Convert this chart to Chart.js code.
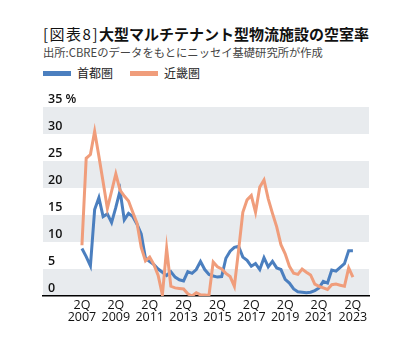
<!DOCTYPE html>
<html>
<head>
<meta charset="utf-8">
<script src="https://cdn.jsdelivr.net/npm/chart.js@4"></script>
<style>
  body { margin: 0; background: #fff; }
  #wrap { position: relative; width: 412px; height: 346px; overflow: hidden; }
  #title { position: absolute; left: 43px; top: 26px; font: 15px/15px "Noto Sans CJK JP"; color: #111; white-space: nowrap; }
  #title .tag { font-weight: 400; letter-spacing: 1.5px; }
  #title b { font-weight: 700; }
  #sub { position: absolute; left: 43px; top: 45.5px; font: 11.3px/12px "Noto Sans CJK JP"; color: #444; white-space: nowrap; }
  .lg { position: absolute; top: 66px; font: 12px/14px "Noto Sans CJK JP"; color: #222; white-space: nowrap; }
  .sw { display: inline-block; width: 28px; height: 5px; vertical-align: middle; margin-right: 6px; position: relative; top: -1px; }
  canvas { position: absolute; left: 0; top: 0; }
</style>
</head>
<body>
<div id="wrap">
  <div id="title"><span class="tag">[図表8]</span><b>大型マルチテナント型物流施設の空室率</b></div>
  <div id="sub">出所:CBREのデータをもとにニッセイ基礎研究所が作成</div>
  <div class="lg" id="lg0" style="left:43px"></div>
  <div class="lg" id="lg1" style="left:130px"></div>
  <canvas id="c" width="412" height="346"></canvas>
</div>
<script>
// quarterly, 2Q 2007 .. 2Q 2023
const seriesNames = ['首都圏', '近畿圏'];
const seriesColors = ['#4b7fbf', '#f09d7b'];
const tokyo = [8.8, 7.3, 5.6, 16.0, 18.2, 14.7, 15.2, 13.6, 16.4, 19.5,
  14.1, 15.3, 14.7, 13.3, 11.5, 7.0, 6.4, 5.8, 5.0, 4.4,
  3.8, 4.5, 3.5, 3.0, 2.8, 4.5, 4.2, 4.9, 6.4, 4.9,
  4.0, 3.7, 3.5, 3.6, 7.0, 8.3, 9.0, 9.2, 7.2, 6.6,
  5.5, 6.0, 4.9, 7.1, 5.4, 6.4, 5.2, 4.9, 3.1, 2.4,
  1.3, 0.8, 0.7, 0.6, 0.7, 1.0, 1.5, 2.7, 2.4, 4.8,
  4.6, 5.3, 6.0, 8.4, 8.4];
const kinki = [9.4, 25.5, 26.2, 30.5, 25.9, 21.1, 16.2, 19.4, 22.6, 19.6,
  18.5, 17.6, 15.5, 13.5, 9.0, 6.5, 7.2, 5.8, 3.8, 0.2,
  8.8, 1.8, 1.5, 1.4, 1.3, 0.4, 0.0, 0.6, 0.2, 0.2,
  0.1, 6.3, 5.4, 5.0, 4.2, 3.6, 1.8, 8.5, 15.5, 17.8,
  18.6, 15.5, 20.2, 21.5, 18.0, 15.3, 12.8, 9.5, 7.8, 5.5,
  4.2, 4.0, 5.0, 4.4, 3.9, 2.2, 1.8, 1.5, 1.2, 2.1,
  2.2, 2.0, 1.8, 5.2, 3.5];
const xTickLabels = ['2Q 2007', '2Q 2009', '2Q 2011', '2Q 2013', '2Q 2015', '2Q 2017', '2Q 2019', '2Q 2021', '2Q 2023'];
const yTicks = [0, 5, 10, 15, 20, 25, 30, 35];

seriesNames.forEach((n, k) => {
  document.getElementById('lg' + k).innerHTML =
    '<span class="sw" style="background:' + seriesColors[k] + '"></span>' + n;
});

// grey bands behind everything (0-5, 10-15, 20-25, 30-35)
const bands = {
  id: 'bands',
  beforeDraw(chart) {
    const { ctx, chartArea: a, scales: { y } } = chart;
    ctx.save();
    ctx.fillStyle = '#e8ebee';
    for (let v = 0; v < 35; v += 10) {
      const top = y.getPixelForValue(v + 5), bot = y.getPixelForValue(v);
      ctx.fillRect(a.left, top, a.right - a.left, bot - top);
    }
    ctx.restore();
  }
};

const toXY = arr => arr.map((v, i) => ({ x: i, y: v }));

new Chart(document.getElementById('c'), {
  type: 'line',
  data: {
    datasets: [tokyo, kinki].map((d, k) => ({
      label: seriesNames[k],
      data: toXY(d),
      borderColor: seriesColors[k],
      borderWidth: 3,
      pointRadius: 0,
      tension: 0,
      order: k === 0 ? 1 : 0
    }))
  },
  options: {
    responsive: false,
    animation: false,
    layout: { padding: { left: 43, right: 43, top: 107, bottom: 10 } },
    plugins: { legend: { display: false }, tooltip: { enabled: false } },
    scales: {
      x: {
        type: 'linear',
        min: -9.2,
        max: 67.8,
        afterFit: s => { s.height = 40; },
        afterBuildTicks: s => { s.ticks = xTickLabels.map((_, k) => ({ value: k * 8 })); },
        grid: { display: false, drawTicks: false },
        border: { display: true, color: '#000', width: 1.5 },
        ticks: {
          autoSkip: false,
          maxRotation: 0,
          padding: 4,
          color: '#111',
          font: { family: 'Open Sans', size: 12.5, lineHeight: 0.92 },
          callback: v => xTickLabels[v / 8].split(' ')
        }
      },
      y: {
        min: 0,
        max: 35,
        afterFit: s => { s.width = 0; },
        afterBuildTicks: s => { s.ticks = yTicks.map(v => ({ value: v })); },
        grid: { display: false, drawTicks: false },
        border: { display: false },
        ticks: {
          autoSkip: false,
          mirror: true,
          padding: 5,
          labelOffset: -8,
          color: '#111',
          font: { family: 'Open Sans', size: 12.5, weight: '600' },
          callback: v => v === 35 ? '35 %' : String(v)
        }
      }
    }
  },
  plugins: [bands]
});
</script>
</body>
</html>
